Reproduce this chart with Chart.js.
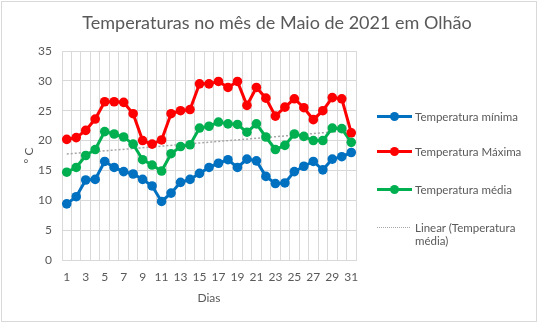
<!DOCTYPE html>
<html>
<head>
<meta charset="utf-8">
<script src="https://cdn.jsdelivr.net/npm/chart.js@4/dist/chart.umd.min.js"></script>
<style>
  body { margin: 0; background: #fff; }
  #wrap { position: relative; width: 538px; height: 323px; font-family: Lato, "Open Sans", sans-serif; }
  #frame { position: absolute; left: 1px; top: 1px; width: 534px; height: 319px; border: 1px solid #d9d9d9; pointer-events: none; }
  #title { position: absolute; left: 0; width: 554px; top: 11px; text-align: center; font-size: 18px; color: #595959; white-space: nowrap; }
  .item { position: absolute; left: 377px; font-size: 11.5px; color: #595959; line-height: 13px; }
  .sw { position: absolute; left: 0; width: 35px; height: 3px; top: -2px; }
  .dot { position: absolute; left: 13px; top: -5px; width: 9px; height: 9px; border-radius: 50%; }
  .txt { position: absolute; left: 38px; top: -7px; white-space: nowrap; }
  .dash { position: absolute; left: 0; width: 33px; top: -1px; border-top: 1.5px dotted #a6a6a6; }
</style>
</head>
<body>
<div id="wrap">
  <canvas id="tempChart" width="538" height="323"></canvas>
  <div id="title">Temperaturas no mês de Maio de 2021 em Olhão</div>
  <div id="legend"></div>
  <div id="frame"></div>
</div>
<script>
var days = [];
for (var d = 1; d <= 31; d++) days.push(String(d));

var tempMin = [9.4, 10.6, 13.4, 13.5, 16.5, 15.5, 14.8, 14.4, 13.5, 12.4, 9.8, 11.2, 13.0, 13.5, 14.5, 15.5, 16.2, 16.8, 15.5, 16.9, 16.6, 14.0, 12.8, 12.9, 14.8, 15.7, 16.5, 15.1, 16.9, 17.3, 18.0];
var tempMax = [20.2, 20.5, 21.7, 23.6, 26.5, 26.5, 26.4, 24.5, 20.0, 19.4, 20.1, 24.5, 25.0, 25.2, 29.5, 29.5, 29.9, 28.9, 29.9, 25.9, 28.9, 27.1, 24.1, 25.6, 27.0, 25.5, 23.5, 25.0, 27.2, 27.0, 21.3];
var tempMed = [14.7, 15.5, 17.5, 18.5, 21.5, 21.1, 20.6, 19.4, 16.8, 15.9, 14.9, 17.8, 19.0, 19.3, 22.1, 22.4, 23.1, 22.8, 22.7, 21.4, 22.8, 20.6, 18.5, 19.2, 21.1, 20.7, 20.0, 20.0, 22.1, 22.0, 19.7];
// trend line end points
var trendDays = ['1', '31'];
var trendVals = [17.75, 21.7];

var yTicks = [0, 5, 10, 15, 20, 25, 30, 35];

var BLUE = '#0070C0', RED = '#FF0000', GREEN = '#00B050';
var txtColor = '#595959';

var series = [
  { label: 'Temperatura mínima', data: tempMin, color: BLUE },
  { label: 'Temperatura Máxima', data: tempMax, color: RED },
  { label: 'Temperatura média', data: tempMed, color: GREEN }
];

var datasets = series.map(function (s) {
  return {
    label: s.label,
    data: s.data,
    borderColor: s.color,
    backgroundColor: s.color,
    borderWidth: 3,
    pointRadius: 4.8,
    pointBorderWidth: 0,
    tension: 0
  };
});
datasets.push({
  label: 'Linear (Temperatura média)',
  data: trendDays.map(function (d, i) { return { x: d, y: trendVals[i] }; }),
  borderColor: '#a6a6a6',
  borderWidth: 1.5,
  borderDash: [2, 2],
  pointRadius: 0,
  order: 5
});

var ctx = document.getElementById('tempChart').getContext('2d');
var chart = new Chart(ctx, {
  type: 'line',
  data: { labels: days, datasets: datasets },
  options: {
    responsive: false,
    animation: false,
    layout: { padding: { left: 22, right: 182, top: 51, bottom: 18 } },
    plugins: {
      legend: { display: false },
      tooltip: { enabled: false },
      title: { display: false }
    },
    scales: {
      x: {
        offset: true,
        grid: { offset: true, color: '#d9d9d9', drawTicks: false },
        border: { color: '#d9d9d9' },
        ticks: {
          autoSkip: false, maxRotation: 0, padding: 10,
          color: txtColor, font: { family: 'Lato', size: 12 },
          callback: function (v, i) { return i % 2 === 0 ? days[i] : ''; }
        },
        title: { display: true, text: 'Dias', color: txtColor, font: { family: 'Lato', size: 12 }, padding: 0 },
        afterFit: function (s) { s.height = 45; }
      },
      y: {
        min: 0, max: 35,
        afterBuildTicks: function (s) { s.ticks = yTicks.map(function (v) { return { value: v }; }); },
        grid: { color: '#d9d9d9', drawTicks: false },
        border: { display: false },
        ticks: { padding: 10, color: txtColor, font: { family: 'Lato', size: 12 } },
        title: { display: true, text: 'º C', color: txtColor, font: { family: 'Lato', size: 12 }, padding: 0 },
        afterFit: function (s) { s.width = 40; }
      }
    }
  }
});

// legend
var legendY = [117, 152, 190, 228];
var lg = document.getElementById('legend');
series.forEach(function (s, i) {
  var el = document.createElement('div');
  el.className = 'item';
  el.style.top = legendY[i] + 'px';
  el.innerHTML = '<div class="sw" style="background:' + s.color + '"></div>' +
    '<div class="dot" style="background:' + s.color + '"></div>' +
    '<div class="txt">' + s.label + '</div>';
  lg.appendChild(el);
});
var tl = document.createElement('div');
tl.className = 'item';
tl.style.top = legendY[3] + 'px';
tl.innerHTML = '<div class="dash"></div><div class="txt">Linear (Temperatura<br>média)</div>';
lg.appendChild(tl);
</script>
</body>
</html>
